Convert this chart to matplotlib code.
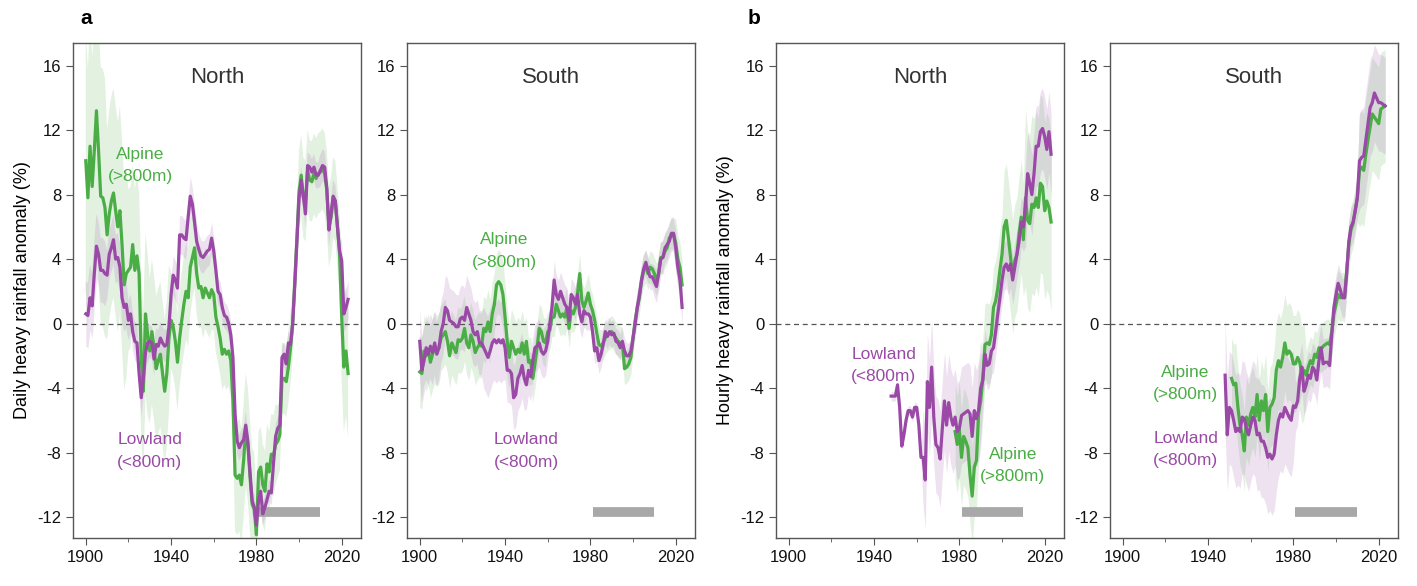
import numpy as np
import matplotlib
matplotlib.use('Agg')
import matplotlib.pyplot as plt
from matplotlib.ticker import MultipleLocator

plt.rcParams['font.family'] = ['Liberation Sans', 'DejaVu Sans']
plt.rcParams['axes.unicode_minus'] = False

GREEN = '#4aad45'
PURPLE = '#9a4aa6'
GREEN_BAND = '#e2f1e0'
PURPLE_BAND = '#eee2f0'
OVERLAP = '#d6d8d8'

# ---- panel a: daily, 1900-2023 ----
years_a = np.arange(1900, 2024)

north_daily_alpine = [
    10.1, 7.8, 11.0, 8.5, 10.7, 13.2, 10.7, 7.9, 7.8, 7.2,
    5.5, 6.8, 7.6, 8.1, 7.0, 6.0, 7.0, 4.9, 2.4, 3.1,
    3.3, 3.5, 4.9, 3.3, 4.2, 3.1, -2.1, -4.2, 0.6, -0.7,
    -1.7, -0.5, -1.5, -2.8, -2.3, -1.9, -3.1, -4.2, -3.1, -0.9,
    0.2, -0.2, -1.1, -2.4, -0.9, 0.2, 1.2, 2.0, 1.6, 3.5,
    4.1, 4.7, 3.1, 2.2, 2.3, 1.6, 2.2, 1.9, 1.6, 2.1,
    1.8, 0.4, -0.2, -0.9, -1.9, -1.6, -1.9, -1.7, -2.3, -4.8,
    -9.4, -9.6, -9.4, -10.0, -8.5, -6.6, -7.5, -9.5, -11.2, -11.5,
    -13.1, -9.2, -8.9, -10.0, -10.4, -8.7, -9.2, -8.1, -8.2, -7.5,
    -7.3, -6.9, -3.4, -3.4, -3.6, -2.7, -1.5, 0.0, 2.6, 5.3,
    8.2, 9.2, 7.8, 7.6, 9.5, 8.9, 8.8, 9.3, 9.0, 9.3,
    9.4, 9.6, 9.3, 8.3, 6.0, 6.6, 7.8, 7.6, 6.0, 4.3,
    0.4, -2.7, -1.7, -3.1,
]
north_daily_lowland = [
    0.6, 0.5, 1.6, 1.1, 3.1, 4.8, 4.3, 3.3, 3.3, 3.1,
    3.0, 4.3, 4.7, 5.2, 4.0, 4.1, 3.5, 1.6, 1.0, 1.2,
    0.2, 0.6, -0.5, -1.1, -1.2, -3.1, -4.6, -3.4, -1.8, -1.2,
    -1.1, -1.2, -2.2, -1.3, -1.4, -0.9, -1.2, -1.4, -1.3, -0.2,
    1.8, 3.0, 2.7, 2.2, 5.5, 5.5, 5.3, 5.2, 6.6, 7.9,
    7.4, 6.3, 5.1, 4.6, 4.2, 4.1, 4.3, 4.5, 4.6, 5.3,
    4.5, 3.3, 2.0, 1.8, 1.0, 0.5, 0.4, 0.0, -0.7, -2.1,
    -5.6, -7.3, -7.7, -7.4, -7.2, -6.3, -7.3, -9.2, -11.0, -11.4,
    -12.5, -11.0, -10.4, -11.8, -11.4, -10.9, -10.4, -10.5, -8.7, -7.0,
    -6.5, -6.3, -2.1, -1.9, -2.5, -1.2, -1.3, 0.0, 2.4, 5.1,
    7.8, 8.9, 7.9, 6.8, 9.8, 9.7, 9.4, 9.7, 9.2, 9.2,
    9.5, 9.8, 9.7, 8.4, 5.8, 6.8, 7.9, 7.6, 6.0, 4.5,
    3.9, 0.6, 1.0, 1.5,
]
south_daily_alpine = [
    -3.0, -3.1, -1.7, -2.0, -1.6, -2.4, -1.9, -1.5, -1.7, -1.5,
    -0.9, -0.7, -0.5, -1.1, -2.0, -1.2, -1.5, -1.8, -1.0, -1.1,
    -0.9, -0.3, -1.2, -1.5, -0.7, -1.1, -1.8, -1.5, -1.3, -1.4,
    -0.3, -0.5, 0.1, -0.5, 0.6, 1.2, 2.4, 2.6, 2.4, 1.8,
    0.4, -1.1, -2.1, -1.1, -1.5, -1.9, -1.6, -1.8, -1.2, -1.9,
    -1.1, -2.4, -2.3, -3.4, -2.5, -1.5, -0.3, -0.5, -1.1, -1.2,
    -0.5, -0.4, 0.4, 0.4, 1.2, 0.8, 0.4, 0.6, 0.4, 1.0,
    -0.3, 0.8, 0.6, 1.0, 1.9, 3.1, 1.4, 1.0, 1.4, 1.9,
    1.2, 0.8, 0.2, -0.6, -1.3, -1.4, -1.2, -0.9, -0.7, -0.6,
    -0.5, -0.7, -0.9, -1.1, -1.2, -1.2, -2.8, -2.7, -2.5, -2.1,
    -0.9, 0.2, 1.0, 1.6, 2.7, 3.3, 3.5, 3.1, 3.5, 3.4,
    3.1, 2.7, 3.1, 4.1, 4.1, 4.5, 4.7, 5.3, 5.5, 5.5,
    5.0, 4.0, 3.5, 2.4,
]
south_daily_lowland = [
    -1.1, -2.9, -2.3, -1.5, -1.9, -1.4, -1.8, -1.2, -1.9, -1.5,
    -0.5, 0.0, 1.0, 0.8, 0.2, 0.1, 0.0, -0.2, -0.2, 0.3,
    0.4, 0.2, 1.0, 0.6, 0.2, -0.5, -0.7, -0.5, -1.2, -1.2,
    -1.5, -1.8, -2.1, -1.7, -1.2, -1.0, -1.2, -1.0, -1.2, -1.0,
    -1.5, -2.9, -2.9, -3.1, -4.6, -4.4, -3.4, -3.1, -2.6, -3.4,
    -3.8, -2.9, -3.3, -2.3, -1.5, -1.4, -1.2, -1.7, -1.9, -1.7,
    -1.1, 0.0, 1.0, 2.7, 1.8, 1.5, 2.0, 1.6, 1.2, 1.0,
    0.2, 1.8, 1.6, 1.2, 1.8, 0.6, 0.1, 0.8, 0.6, 0.6,
    0.4, -0.5, -1.7, -1.5, -2.3, -1.9, -1.3, -0.5, -0.8, -0.5,
    -0.7, -0.6, -1.1, -1.2, -1.5, -1.1, -1.7, -2.0, -2.0, -1.7,
    -0.9, 0.0, 1.0, 1.8, 2.7, 3.4, 3.8, 3.3, 2.9, 2.9,
    2.6, 2.3, 3.1, 4.0, 4.1, 4.7, 4.9, 5.1, 5.6, 5.6,
    4.7, 3.5, 2.7, 1.0,
]
# uncertainty half-widths, one value per decade (1900s ... 2020s)
north_daily_alpine_hw = [8, 6.5, 5, 4.5, 3, 2.5, 2.2, 3.5, 2.5, 2.2, 2.5, 2.5, 4]
north_daily_lowland_hw = [2, 1.5, 1.2, 1, 1.2, 1, 0.8, 0.8, 0.7, 0.7, 0.8, 1, 1.2]
south_daily_alpine_hw = [2.2, 2, 2, 2, 2, 1.5, 1.2, 1.2, 1, 1, 1, 1, 1.5]
south_daily_lowland_hw = [2, 2, 2, 2.5, 2, 1.5, 1.2, 1, 0.8, 0.8, 0.8, 1, 1.2]

# ---- panel b: hourly ----
years_b_low = np.arange(1948, 2024)
years_b_north_alp = np.arange(1978, 2024)
years_b_south_alp = np.arange(1951, 2024)

north_hourly_lowland = [
    -4.5, -4.5, -4.5, -3.8, -5.2, -7.6, -6.9, -6.0, -5.4, -5.4,
    -5.8, -5.2, -5.2, -6.3, -8.3, -8.3, -9.7, -3.6, -5.2, -2.7,
    -5.8, -7.5, -7.7, -8.4, -6.5, -4.8, -6.3, -4.9, -5.8, -6.3,
    -5.8, -6.7, -6.5, -5.7, -5.6, -5.5, -5.4, -5.6, -7.0, -5.4,
    -5.9, -5.4, -4.0, -3.5, -1.9, -2.6, -2.5, -1.7, -1.5, -0.5,
    0.6, 1.6, 2.7, 3.5, 3.7, 3.3, 3.7, 2.7, 3.5, 4.3,
    5.1, 6.3, 6.0, 7.3, 9.3, 8.7, 8.0, 9.3, 11.0, 11.0,
    11.9, 12.1, 11.6, 10.8, 11.9, 10.5,
]
north_hourly_alpine = [
    -6.7, -7.5, -6.6, -8.3, -7.0, -7.3, -7.7, -9.4, -10.7, -8.9,
    -8.5, -5.6, -4.8, -3.4, -1.3, -1.2, -1.3, -0.7, 1.0, 1.4,
    2.2, 3.3, 4.3, 6.0, 6.4, 5.3, 4.1, 2.9, 3.9, 4.3,
    5.6, 6.6, 5.2, 7.8, 6.4, 6.2, 7.4, 7.2, 7.8, 7.2,
    8.7, 8.5, 7.0, 7.6, 7.2, 6.3,
]
south_hourly_lowland = [
    -3.2, -6.9, -5.2, -5.4, -6.0, -6.7, -6.5, -6.7, -5.8, -5.9,
    -6.5, -6.9, -6.3, -5.8, -6.0, -6.9, -6.8, -7.3, -7.3, -7.7,
    -8.3, -8.1, -8.4, -8.1, -6.9, -6.0, -5.6, -5.8, -5.2, -5.5,
    -5.8, -6.0, -5.1, -5.2, -4.8, -3.4, -2.7, -4.2, -3.8, -3.2,
    -3.4, -2.7, -2.9, -3.5, -2.3, -1.5, -2.5, -2.4, -2.4, -2.6,
    -0.7, 1.0, 1.8, 2.5, 2.1, 1.6, 1.6, 3.1, 5.1, 6.0,
    6.3, 7.0, 7.8, 10.1, 10.3, 10.4, 11.4, 12.4, 13.4, 13.7,
    14.3, 14.0, 13.7, 13.7, 13.6, 13.5,
]
south_hourly_alpine = [
    -3.4, -3.8, -3.7, -5.2, -6.3, -6.9, -7.9, -5.8, -6.3, -5.6,
    -5.2, -5.8, -4.4, -6.0, -4.8, -5.4, -4.4, -6.7, -5.2, -5.0,
    -4.6, -2.9, -2.3, -2.7, -2.1, -1.2, -1.9, -1.7, -1.9, -2.5,
    -2.5, -2.1, -2.4, -3.2, -2.9, -3.2, -2.7, -2.3, -2.5, -1.9,
    -2.1, -1.5, -1.6, -1.4, -1.3, -1.2, -1.3, -0.5, 0.6, 1.2,
    1.8, 1.6, 1.7, 1.6, 3.3, 4.9, 5.8, 6.2, 7.0, 7.8,
    9.5, 9.7, 9.5, 10.5, 11.4, 12.2, 13.0, 12.8, 12.6, 12.4,
    13.3, 13.4, 13.5,
]
# half-widths: (value, number of years)
north_hourly_lowland_hw = [(0.3, 15), (3.0, 28), (1.5, 20), (2.5, 13)]
north_hourly_alpine_hw = [(3.0, 13), (2.5, 10), (3.5, 10), (5.5, 13)]
south_hourly_lowland_hw = [(3.5, 33), (1.5, 17), (1.2, 13), (3.0, 13)]
south_hourly_alpine_hw = [(2.5, 20), (3.0, 15), (1.5, 25), (3.5, 13)]

ref_period = (1981, 2010)


def decade_hw(hw, n):
    return np.repeat(hw, 10)[:n]


def block_hw(blocks):
    return np.concatenate([np.full(c, v) for v, c in blocks])


def draw_panel(ax, title, xg, g, ghw, xp, p, phw):
    g = np.asarray(g)
    p = np.asarray(p)
    ax.fill_between(xg, g - ghw, g + ghw, color=GREEN_BAND, lw=0, zorder=1)
    ax.fill_between(xp, p - phw, p + phw, color=PURPLE_BAND, lw=0, zorder=1)
    # overlap of the two bands in grey
    common, ig, ip = np.intersect1d(xg, xp, return_indices=True)
    lo = np.maximum(g[ig] - ghw[ig], p[ip] - phw[ip])
    hi = np.minimum(g[ig] + ghw[ig], p[ip] + phw[ip])
    ax.fill_between(common, lo, hi, where=hi > lo, color=OVERLAP, lw=0,
                    zorder=2, interpolate=True)
    ax.axhline(0, color='#555555', lw=0.9, ls=(0, (4, 3)), zorder=3)
    ax.plot(ref_period, [-11.7, -11.7], color='#a8a8a8', lw=7,
            solid_capstyle='butt', zorder=3)
    ax.plot(xg, g, color=GREEN, lw=2.3, zorder=4)
    ax.plot(xp, p, color=PURPLE, lw=2.3, zorder=5)
    ax.set_xlim(1894, 2029)
    ax.set_ylim(-13.3, 17.4)
    ax.set_xticks([1900, 1940, 1980, 2020])
    ax.xaxis.set_minor_locator(MultipleLocator(20))
    ax.set_yticks(range(-12, 17, 4))
    ax.tick_params(axis='both', which='major', labelsize=12, length=5,
                   color='#555555', labelcolor='#111111')
    ax.tick_params(axis='x', which='minor', length=3, color='#555555')
    for s in ax.spines.values():
        s.set_color('#555555')
        s.set_linewidth(1)
    ax.text(0.5, 0.93, title, transform=ax.transAxes, ha='center', va='center',
            fontsize=16, color='#333333')


fig = plt.figure(figsize=(14.17, 5.86), dpi=100)
W, B, H = 0.2032, 0.0819, 0.8447
ax1 = fig.add_axes([0.0515, B, W, H])
ax2 = fig.add_axes([0.2872, B, W, H])
ax3 = fig.add_axes([0.5476, B, W, H])
ax4 = fig.add_axes([0.7833, B, W, H])

n = len(years_a)
draw_panel(ax1, 'North', years_a, north_daily_alpine, decade_hw(north_daily_alpine_hw, n),
           years_a, north_daily_lowland, decade_hw(north_daily_lowland_hw, n))
draw_panel(ax2, 'South', years_a, south_daily_alpine, decade_hw(south_daily_alpine_hw, n),
           years_a, south_daily_lowland, decade_hw(south_daily_lowland_hw, n))
draw_panel(ax3, 'North', years_b_north_alp, north_hourly_alpine, block_hw(north_hourly_alpine_hw),
           years_b_low, north_hourly_lowland, block_hw(north_hourly_lowland_hw))
draw_panel(ax4, 'South', years_b_south_alp, south_hourly_alpine, block_hw(south_hourly_alpine_hw),
           years_b_low, south_hourly_lowland, block_hw(south_hourly_lowland_hw))

ax1.set_ylabel('Daily heavy rainfall anomaly (%)', fontsize=13, labelpad=4)
ax3.set_ylabel('Hourly heavy rainfall anomaly (%)', fontsize=13, labelpad=4)

lab = dict(ha='center', va='center', fontsize=12.5, linespacing=1.6)
ax1.text(1925.5, 9.8, 'Alpine\n(>800m)', color=GREEN, **lab)
ax1.text(1930, -7.9, 'Lowland\n(<800m)', color=PURPLE, **lab)
ax2.text(1939.5, 4.5, 'Alpine\n(>800m)', color=GREEN, **lab)
ax2.text(1950, -7.9, 'Lowland\n(<800m)', color=PURPLE, **lab)
ax3.text(1944.5, -2.6, 'Lowland\n(<800m)', color=PURPLE, **lab)
ax3.text(2005, -8.8, 'Alpine\n(>800m)', color=GREEN, **lab)
ax4.text(1929.5, -3.7, 'Alpine\n(>800m)', color=GREEN, **lab)
ax4.text(1929.5, -7.8, 'Lowland\n(<800m)', color=PURPLE, **lab)

fig.text(80 / 1417, 1 - 18 / 586, 'a', fontsize=15, fontweight='bold', va='center')
fig.text(748 / 1417, 1 - 18 / 586, 'b', fontsize=15, fontweight='bold', va='center')

fig.savefig('out.png', dpi=100)
